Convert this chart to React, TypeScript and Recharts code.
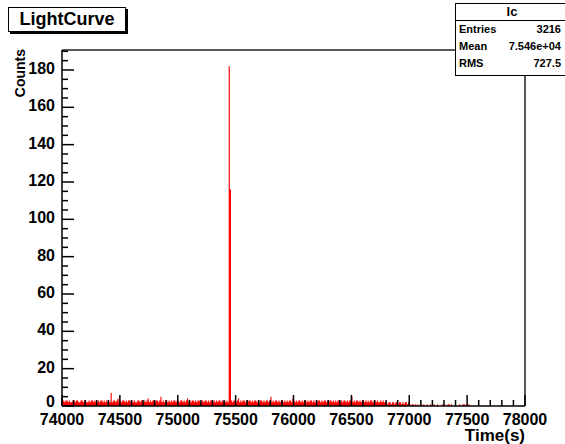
import { ComposedChart, Area, XAxis, YAxis, ReferenceLine } from 'recharts'

// histogram bins: 10 s wide, starting at 74000 s
const BIN_START = 74000
const BIN_WIDTH = 10

const counts = [
  2, 3, 2, 3, 3, 2, 3, 2, 2, 3, 3, 2, 3, 3, 2, 2, 3, 3, 2, 3,
  3, 2, 2, 3, 2, 3, 3, 2, 3, 2, 2, 3, 2, 3, 3, 2, 3, 2, 3, 2,
  3, 2, 7, 2, 3, 3, 2, 3, 4, 2, 3, 2, 3, 3, 2, 3, 2, 3, 3, 2,
  3, 2, 3, 2, 2, 3, 3, 2, 3, 3, 2, 3, 2, 3, 4, 2, 3, 2, 3, 3,
  2, 3, 3, 2, 3, 5, 2, 3, 2, 3, 3, 2, 3, 2, 3, 2, 3, 3, 2, 3,
  3, 2, 3, 3, 2, 3, 2, 3, 4, 2, 3, 2, 3, 3, 2, 3, 2, 3, 3, 2,
  2, 3, 2, 3, 3, 2, 3, 2, 3, 3, 2, 3, 2, 3, 2, 3, 3, 2, 3, 2,
  3, 2, 3, 2, 182, 116, 3, 2, 3, 3, 2, 3, 4, 2, 3, 2, 3, 3, 2, 3,
  2, 3, 3, 2, 3, 2, 3, 3, 2, 3, 2, 3, 3, 2, 3, 2, 3, 3, 2, 3,
  5, 2, 3, 2, 3, 3, 2, 3, 2, 3, 3, 2, 3, 2, 3, 2, 3, 3, 2, 4,
  3, 2, 3, 2, 3, 3, 2, 3, 2, 3, 3, 2, 3, 2, 3, 3, 2, 3, 2, 3,
  2, 3, 3, 2, 3, 2, 3, 3, 2, 3, 2, 3, 3, 2, 3, 2, 3, 2, 3, 3,
  2, 3, 2, 3, 3, 2, 3, 2, 3, 3, 5, 2, 3, 2, 3, 3, 2, 3, 2, 3,
  3, 2, 3, 2, 3, 2, 3, 3, 2, 2, 3, 2, 3, 2, 2, 3, 2, 3, 2, 2,
  2, 1, 2, 2, 1, 2, 2, 1, 2, 2, 1, 2, 2, 1, 2, 1, 2, 2, 1, 2,
  1, 0, 1, 1, 0, 1, 0, 1, 0, 0, 1, 0, 1, 0, 0, 1, 0, 0, 1, 0,
  0, 1, 0, 0, 1, 0, 0, 0, 1, 0, 1, 0, 0, 1, 1, 0, 1, 0, 0, 0,
  0, 0, 0, 1, 0, 0, 1, 1, 0, 1, 0, 1, 0, 0, 0, 0, 0, 0, 0, 0,
  0, 0, 0, 0, 0, 0, 0, 0, 0, 0, 0, 0, 0, 0, 0, 0, 0, 0, 0, 0,
  0, 0, 0, 0, 0, 0, 0, 0, 0, 0, 0, 0, 0, 0, 0, 0, 0, 0, 0, 0,
]

const xLabels = [74000, 74500, 75000, 75500, 76000, 76500, 77000, 77500, 78000]
const yLabels = [0, 20, 40, 60, 80, 100, 120, 140, 160, 180]
const X_MINOR = 100
const Y_MINOR = 5
const Y_MAX = 190.7

const stats = [
  { name: 'Entries', value: '3216' },
  { name: 'Mean', value: '7.546e+04' },
  { name: 'RMS', value: '727.5' },
]

const FONT = '"Liberation Sans", Arial, Helvetica, sans-serif'

const data = counts.map((c, i) => ({ t: BIN_START + i * BIN_WIDTH, counts: c }))
data.push({ t: BIN_START + counts.length * BIN_WIDTH, counts: 0 })

const xTicks: number[] = []
for (let v = xLabels[0]; v <= xLabels[xLabels.length - 1]; v += X_MINOR) xTicks.push(v)
const yTicks: number[] = []
for (let v = 0; v <= Y_MAX; v += Y_MINOR) yTicks.push(v)

const XTick = ({ x, y, payload }: any) => {
  const major = xLabels.includes(payload.value)
  return (
    <g>
      <line x1={x} x2={x} y1={y} y2={y - (major ? 11 : 6)} stroke="#000" strokeWidth={1.5} />
      {major && (
        <text x={x} y={y + 13} textAnchor="middle" dominantBaseline="central"
          fontFamily={FONT} fontWeight="bold" fontSize={16} fill="#000">
          {payload.value}
        </text>
      )}
    </g>
  )
}

const YTick = ({ x, y, payload }: any) => {
  const major = yLabels.includes(payload.value)
  return (
    <g>
      <line x1={x} x2={x + (major ? 12 : 6)} y1={y} y2={y} stroke="#000" strokeWidth={1.5} />
      {major && (
        <text x={x - 7} y={y - (payload.value === 0 ? 5 : 1.5)} textAnchor="end" dominantBaseline="central"
          fontFamily={FONT} fontWeight="bold" fontSize={16} fill="#000">
          {payload.value}
        </text>
      )}
    </g>
  )
}

export default function App() {
  return (
    <div style={{ position: 'absolute', left: 0, top: 0, width: 565, height: 444, background: '#fff', overflow: 'hidden' }}>
      <ComposedChart width={565} height={444} data={data} margin={{ top: 50, right: 40, left: 2, bottom: 8 }}>
        <Area
          type="stepAfter"
          dataKey="counts"
          stroke="none"
          fill="#ff0000"
          fillOpacity={1}
          isAnimationActive={false}
        />
        <ReferenceLine y={Y_MAX} stroke="#222" strokeWidth={1.5} />
        <ReferenceLine x={78000} stroke="#222" strokeWidth={1.5} />
        <XAxis
          dataKey="t"
          type="number"
          domain={[74000, 78000]}
          ticks={xTicks}
          interval={0}
          height={30}
          tickSize={0}
          tickMargin={0}
          tickLine={false}
          tick={<XTick />}
          axisLine={{ stroke: '#000', strokeWidth: 1.5 }}
          allowDataOverflow
          label={{
            content: () => (
              <text x={525} y={435} textAnchor="end" dominantBaseline="central"
                fontFamily={FONT} fontWeight="bold" fontSize={17} fill="#000">
                Time(s)
              </text>
            ),
          }}
        />
        <YAxis
          type="number"
          domain={[0, Y_MAX]}
          ticks={yTicks}
          interval={0}
          width={60}
          tickSize={0}
          tickMargin={0}
          tickLine={false}
          tick={<YTick />}
          axisLine={{ stroke: '#000', strokeWidth: 1.5 }}
          allowDataOverflow
          label={{
            content: () => (
              <text x={20} y={49} transform="rotate(-90 20 49)" textAnchor="end" dominantBaseline="central"
                fontFamily={FONT} fontWeight="bold" fontSize={14} fill="#000">
                Counts
              </text>
            ),
          }}
        />
      </ComposedChart>

      <div style={{
        position: 'absolute', left: 8, top: 7, width: 116, height: 23,
        border: '1px solid #000', boxShadow: '2px 2px 0 #000', background: '#fff',
        fontFamily: FONT, fontWeight: 'bold', fontSize: 18, lineHeight: '23px', textAlign: 'center',
      }}>
        LightCurve
      </div>

      <div style={{
        position: 'absolute', left: 455, top: 3, width: 112, height: 71,
        border: '1px solid #000', background: '#fff', fontFamily: FONT, fontWeight: 'bold',
      }}>
        <div style={{ height: 16, lineHeight: '16px', textAlign: 'center', fontSize: 13, borderBottom: '1px solid #000' }}>
          lc
        </div>
        {stats.map(s => (
          <div key={s.name} style={{ display: 'flex', justifyContent: 'space-between', height: 17, lineHeight: '17px', fontSize: 11, padding: '0 4px 0 3px', width: 102 }}>
            <span>{s.name}</span>
            <span>{s.value}</span>
          </div>
        ))}
      </div>
    </div>
  )
}
